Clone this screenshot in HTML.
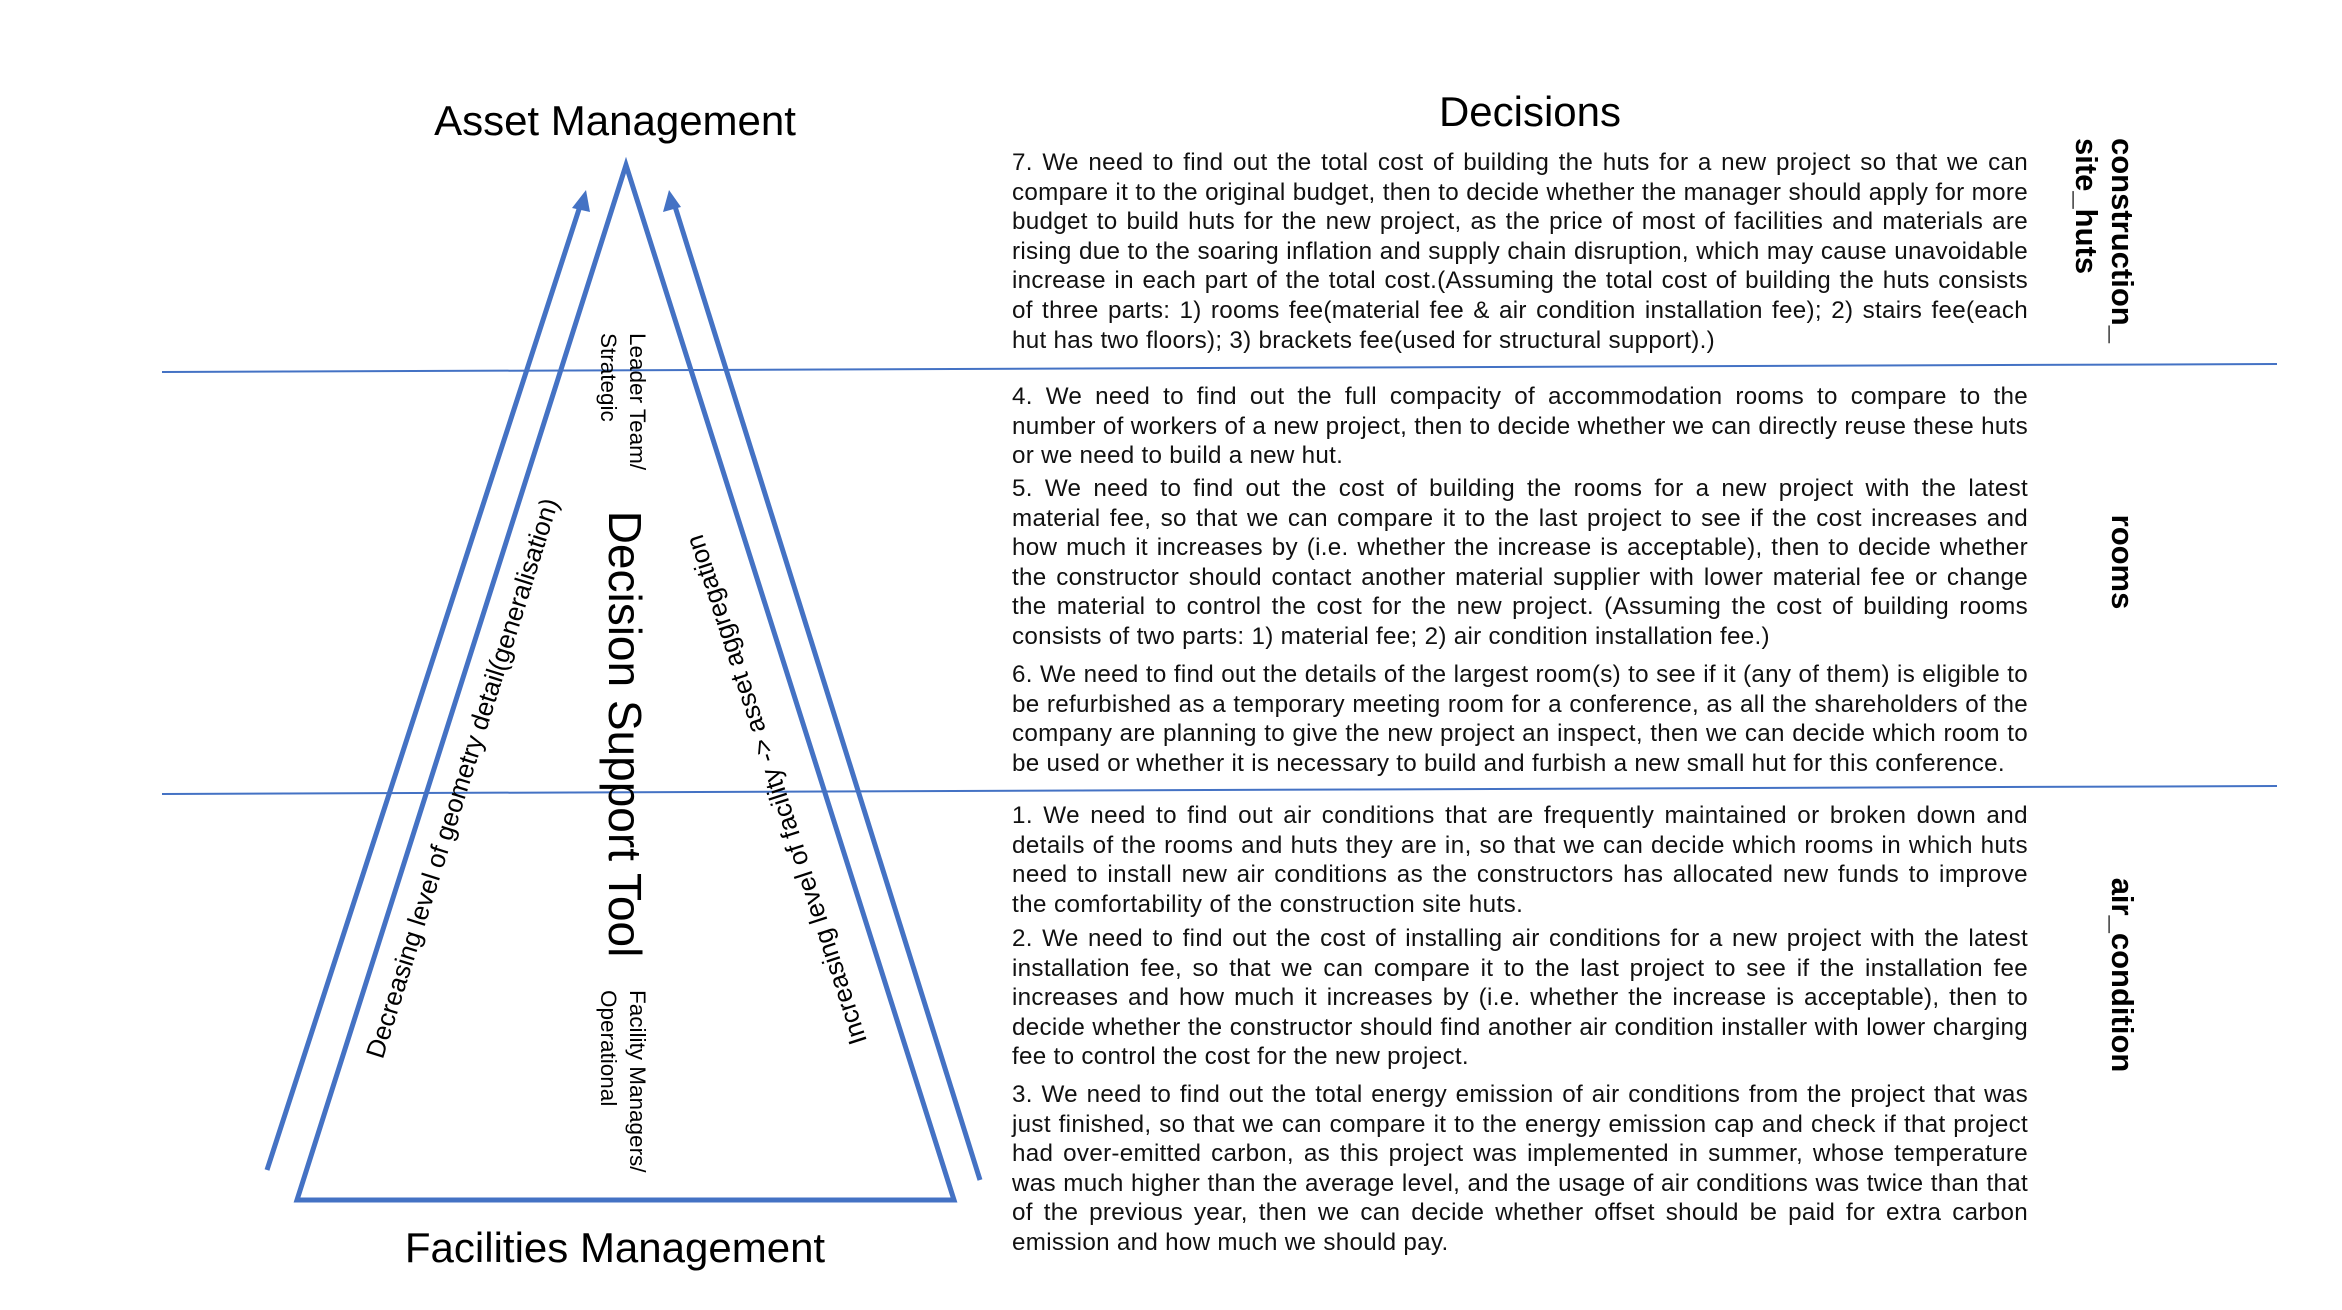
<!DOCTYPE html>
<html><head><meta charset="utf-8"><style>
html,body{margin:0;padding:0;background:#fff;}
body{width:2342px;height:1310px;position:relative;overflow:hidden;font-family:"Liberation Sans",sans-serif;color:#111;}
.p{position:absolute;left:1012px;width:1016px;font-size:24.2px;letter-spacing:0.3px;line-height:29.6px;text-align:justify;text-align-last:left;margin:0;}
</style></head><body>
<svg width="2342" height="1310" style="position:absolute;left:0;top:0" font-family="Liberation Sans, sans-serif">
<line x1="162" y1="372" x2="2277" y2="364" stroke="#4472c4" stroke-width="2"/>
<line x1="162" y1="794" x2="2277" y2="786" stroke="#4472c4" stroke-width="2"/>
<polygon points="626,165 297,1200 954,1200" fill="none" stroke="#4472c4" stroke-width="5"/>
<line x1="267" y1="1170" x2="582" y2="200" stroke="#4472c4" stroke-width="5"/>
<polygon points="586,190 572,208 590,212" fill="#4472c4"/>
<line x1="980" y1="1180" x2="673" y2="200" stroke="#4472c4" stroke-width="5"/>
<polygon points="669,190 663,212 681,207" fill="#4472c4"/>
<text x="615" y="135" font-size="42" text-anchor="middle">Asset Management</text>
<text x="615" y="1262" font-size="42" text-anchor="middle">Facilities Management</text>
<text x="1530" y="126" font-size="42" text-anchor="middle">Decisions</text>
<text transform="translate(625,734) rotate(90)" font-size="46" text-anchor="middle" dominant-baseline="central">Decision Support Tool</text>
<text transform="translate(630,333) rotate(90)" font-size="22.5">Leader Team/</text>
<text transform="translate(601,333) rotate(90)" font-size="22.5">Strategic</text>
<text transform="translate(630,990) rotate(90)" font-size="22.5">Facility Managers/</text>
<text transform="translate(601,990) rotate(90)" font-size="22.5">Operational</text>
<text transform="translate(462,778) rotate(-72.5)" font-size="26" text-anchor="middle" dominant-baseline="central">Decreasing level of geometry detail(generalisation)</text>
<text transform="translate(776,790) rotate(-108)" font-size="26" text-anchor="middle" dominant-baseline="central">Increasing level of facility -&gt; asset aggregation</text>
<text transform="translate(2112,138) rotate(90)" font-size="31" font-weight="bold">construction_</text>
<text transform="translate(2076,138) rotate(90)" font-size="31" font-weight="bold">site_huts</text>
<text transform="translate(2112,562) rotate(90)" font-size="31" font-weight="bold" text-anchor="middle">rooms</text>
<text transform="translate(2112,975) rotate(90)" font-size="31" font-weight="bold" text-anchor="middle">air_condition</text>
</svg>
<p class="p" style="top:148px">7. We need to find out the total cost of building the huts for a new project so that we can compare it to the original budget, then to decide whether the manager should apply for more budget to build huts for the new project, as the price of most of facilities and materials are rising due to the soaring inflation and supply chain disruption, which may cause unavoidable increase in each part of the total cost.(Assuming the total cost of building the huts consists of three parts: 1) rooms fee(material fee &amp; air condition installation fee); 2) stairs fee(each hut has two floors); 3) brackets fee(used for structural support).)</p>
<p class="p" style="top:382px;letter-spacing:0.28px">4. We need to find out the full compacity of accommodation rooms to compare to the number of workers of a new project, then to decide whether we can directly reuse these huts or we need to build a new hut.</p>
<p class="p" style="top:474px">5. We need to find out the cost of building the rooms for a new project with the latest material fee, so that we can compare it to the last project to see if the cost increases and how much it increases by (i.e. whether the increase is acceptable), then to decide whether the constructor should contact another material supplier with lower material fee or change the material to control the cost for the new project. (Assuming the cost of building rooms consists of two parts: 1) material fee; 2) air condition installation fee.)</p>
<p class="p" style="top:660px">6. We need to find out the details of the largest room(s) to see if it (any of them) is eligible to be refurbished as a temporary meeting room for a conference, as all the shareholders of the company are planning to give the new project an inspect, then we can decide which room to be used or whether it is necessary to build and furbish a new small hut for this conference.</p>
<p class="p" style="top:801px;letter-spacing:0.42px">1. We need to find out air conditions that are frequently maintained or broken down and details of the rooms and huts they are in, so that we can decide which rooms in which huts need to install new air conditions as the constructors has allocated new funds to improve the comfortability of the construction site huts.</p>
<p class="p" style="top:924px">2. We need to find out the cost of installing air conditions for a new project with the latest installation fee, so that we can compare it to the last project to see if the installation fee increases and how much it increases by (i.e. whether the increase is acceptable), then to decide whether the constructor should find another air condition installer with lower charging fee to control the cost for the new project.</p>
<p class="p" style="top:1080px">3. We need to find out the total energy emission of air conditions from the project that was just finished, so that we can compare it to the energy emission cap and check if that project had over-emitted carbon, as this project was implemented in summer, whose temperature was much higher than the average level, and the usage of air conditions was twice than that of the previous year, then we can decide whether offset should be paid for extra carbon emission and how much we should pay.</p>
</body></html>
